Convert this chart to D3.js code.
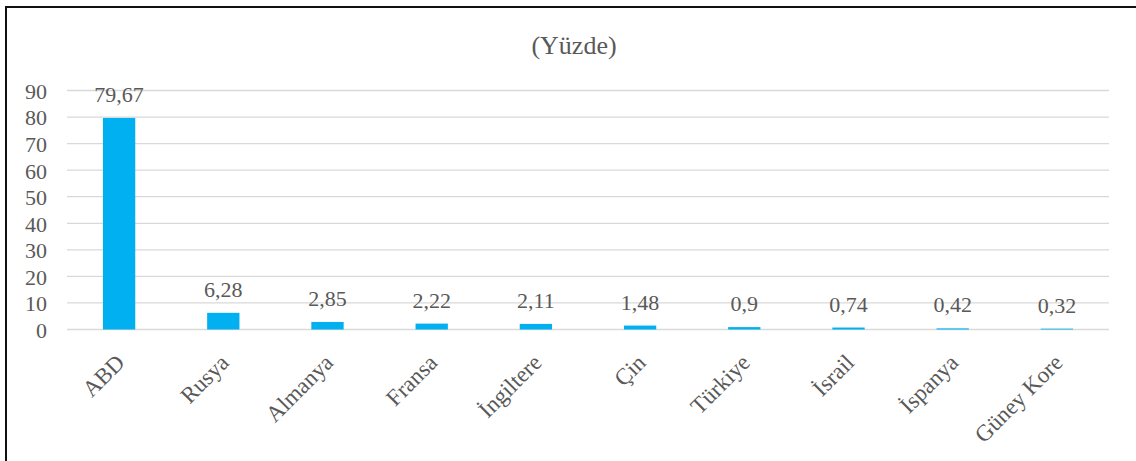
<!DOCTYPE html>
<html>
<head>
<meta charset="utf-8">
<script src="https://cdn.jsdelivr.net/npm/d3@7"></script>
<style>
  body { margin: 0; background: #fff; }
  svg text { font-family: "Liberation Serif", "Times New Roman", serif; fill: #595959; }
</style>
</head>
<body>
<div id="chart"></div>
<script>
const countries = ['ABD', 'Rusya', 'Almanya', 'Fransa', 'İngiltere', 'Çin', 'Türkiye', 'İsrail', 'İspanya', 'Güney Kore'];
const shares = [79.67, 6.28, 2.85, 2.22, 2.11, 1.48, 0.9, 0.74, 0.42, 0.32];
const shareLabels = ['79,67', '6,28', '2,85', '2,22', '2,11', '1,48', '0,9', '0,74', '0,42', '0,32'];
const yTicks = [0, 10, 20, 30, 40, 50, 60, 70, 80, 90];

const width = 1136, height = 461;
const plotLeft = 67, plotRight = 1109, plotTop = 90.5, plotBottom = 329.5;

const svg = d3.select('#chart')
    .append('svg')
    .attr('width', width)
    .attr('height', height);

// frame (only left and top edges are visible in the crop)
svg.append('path')
    .attr('d', `M6,${height} L6,7 L${width},7`)
    .attr('fill', 'none')
    .attr('stroke', '#111')
    .attr('stroke-width', 2);

svg.append('text')
    .attr('x', 574)
    .attr('y', 54)
    .attr('text-anchor', 'middle')
    .style('font-size', '26px')
    .text('(Yüzde)');

const x = d3.scaleBand()
    .domain(countries)
    .range([plotLeft, plotRight])
    .paddingInner(0.69)
    .paddingOuter(0.345);

const y = d3.scaleLinear()
    .domain([0, 90])
    .range([plotBottom, plotTop]);

// gridlines
svg.append('g')
    .selectAll('line')
    .data(yTicks)
    .join('line')
    .attr('x1', plotLeft)
    .attr('x2', plotRight)
    .attr('y1', d => y(d))
    .attr('y2', d => y(d))
    .attr('stroke', '#d9d9d9')
    .attr('stroke-width', 1.3);

// y tick labels
svg.append('g')
    .selectAll('text')
    .data(yTicks)
    .join('text')
    .attr('x', 47)
    .attr('y', d => y(d))
    .attr('dy', '0.38em')
    .attr('text-anchor', 'end')
    .style('font-size', '22px')
    .text(d => d);

// bars
svg.append('g')
    .selectAll('rect')
    .data(shares)
    .join('rect')
    .attr('x', (d, i) => x(countries[i]))
    .attr('width', x.bandwidth())
    .attr('y', d => y(d))
    .attr('height', d => y(0) - y(d))
    .attr('fill', '#00b0f0');

// value labels
svg.append('g')
    .selectAll('text')
    .data(shares)
    .join('text')
    .attr('x', (d, i) => x(countries[i]) + x.bandwidth() / 2)
    .attr('y', d => y(d) - 16)
    .attr('text-anchor', 'middle')
    .style('font-size', '22px')
    .text((d, i) => shareLabels[i]);

// category labels
svg.append('g')
    .selectAll('text')
    .data(countries)
    .join('text')
    .attr('transform', d => `translate(${x(d) + x.bandwidth() / 2 + 7},364) rotate(-45)`)
    .attr('text-anchor', 'end')
    .style('font-size', '23px')
    .text(d => d);
</script>
</body>
</html>
